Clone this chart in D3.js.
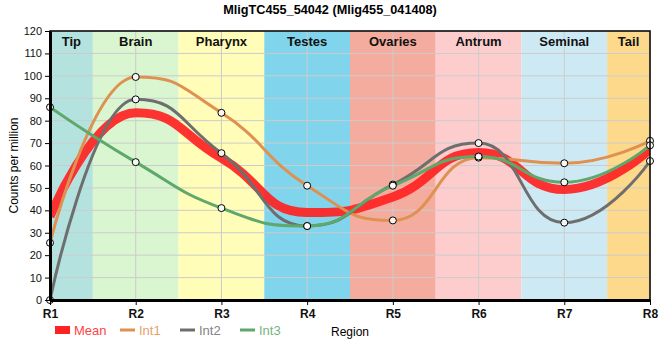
<!DOCTYPE html>
<html lang="en">
<head>
    <meta charset="UTF-8">
    <title>MligTC455_54042</title>
    <script src="https://d3js.org/d3.v7.min.js"></script>
    <style>
        body{ margin: 0; background: white; font-family: "Liberation Sans", Arial, sans-serif; }
        .grid line{ stroke: #cccccc; stroke-width: 1; }
        .ser{ fill: none; stroke-linejoin: round; }
    </style>
</head>
<body>
<svg id="main" width="660" height="360"></svg>
<script>
    // data
    let regions = ['R1','R2','R3','R4','R5','R6','R7','R8'];
    let tissues = ['Tip','Brain','Pharynx','Testes','Ovaries','Antrum','Seminal','Tail'];
    let tissueColors = ['#b4e3df','#d9f6d0','#fffdb8','#80d4eb','#f4ac9e','#fdcccd','#cdeaf4','#fdd98b'];
    let int1 = [25.5, 99.5, 83.5, 51, 35.5, 63.5, 61, 71];
    let int2 = [0, 89.5, 65.5, 33, 51.5, 70, 34.5, 62];
    let int3 = [86, 61.5, 41, 33, 51, 64, 52.5, 69];
    let mean = [37.2, 83.5, 63.3, 39, 46, 65.8, 49.3, 67.3];
    let yTicks = [0,10,20,30,40,50,60,70,80,90,100,110,120];

    let svg = d3.select('svg#main');
    let margins = {left: 50, right: 10, top: 31, bottom: 60};
    let W = 660, H = 360;

    let xScale = d3.scalePoint().domain(regions).range([margins.left, W - margins.right]);
    let yScale = d3.scaleLinear().domain([0, 120]).range([H - margins.bottom, margins.top]);
    let step = xScale.step();

    function bandEdges(i){
        let a = Math.max(margins.left, xScale(regions[i]) - step/2);
        let b = Math.min(W - margins.right, xScale(regions[i]) + step/2);
        return [a, b];
    }

    // tissue bands
    svg.append('g').selectAll('rect')
        .data(tissues)
        .enter()
        .append('rect')
        .attr('x', function(d,i){ return bandEdges(i)[0]; })
        .attr('width', function(d,i){ let e = bandEdges(i); return e[1] - e[0]; })
        .attr('y', yScale(120))
        .attr('height', yScale(0) - yScale(120))
        .style('fill', function(d,i){ return tissueColors[i]; });

    // grid
    let grid = svg.append('g').attr('class','grid');
    grid.selectAll('line.h').data(yTicks).enter().append('line')
        .attr('class','h')
        .attr('x1', margins.left).attr('x2', W - margins.right)
        .attr('y1', function(d){ return yScale(d); }).attr('y2', function(d){ return yScale(d); });
    grid.selectAll('line.v').data(regions).enter().append('line')
        .attr('class','v')
        .attr('y1', yScale(0)).attr('y2', yScale(120))
        .attr('x1', function(d){ return xScale(d); }).attr('x2', function(d){ return xScale(d); });

    // band labels
    svg.append('g').selectAll('text')
        .data(tissues)
        .enter()
        .append('text')
        .attr('x', function(d,i){ let e = bandEdges(i); return (e[0] + e[1]) / 2; })
        .attr('y', yScale(120) + 15)
        .attr('text-anchor','middle')
        .style('font-size','13px')
        .style('font-weight','bold')
        .style('fill','#111')
        .text(function(d){ return d; });

    // spline with flat tangents at extremes, control points half way between points
    function spline(values){
        let pts = values.map(function(v,i){ return {x: xScale(regions[i]), y: yScale(v)}; });
        let sm = 1, den = sm + 1;
        for (let i = 1; i < pts.length - 1; i++){
            let p = pts[i], l = pts[i-1], n = pts[i+1];
            let lcx = (sm*p.x + l.x)/den, lcy = (sm*p.y + l.y)/den;
            let rcx = (sm*p.x + n.x)/den, rcy = (sm*p.y + n.y)/den;
            let corr = ((rcy - lcy) * (rcx - p.x)) / (rcx - lcx) + p.y - rcy;
            lcy += corr; rcy += corr;
            if (lcy > l.y && lcy > p.y){ lcy = Math.max(l.y, p.y); rcy = 2*p.y - lcy; }
            else if (lcy < l.y && lcy < p.y){ lcy = Math.min(l.y, p.y); rcy = 2*p.y - lcy; }
            if (rcy > n.y && rcy > p.y){ rcy = Math.max(n.y, p.y); lcy = 2*p.y - rcy; }
            else if (rcy < n.y && rcy < p.y){ rcy = Math.min(n.y, p.y); lcy = 2*p.y - rcy; }
            p.lcx = lcx; p.lcy = lcy; p.rcx = rcx; p.rcy = rcy;
        }
        let path = d3.path();
        path.moveTo(pts[0].x, pts[0].y);
        for (let i = 1; i < pts.length; i++){
            let a = pts[i-1], b = pts[i];
            path.bezierCurveTo(
                a.rcx !== undefined ? a.rcx : a.x, a.rcy !== undefined ? a.rcy : a.y,
                b.lcx !== undefined ? b.lcx : b.x, b.lcy !== undefined ? b.lcy : b.y,
                b.x, b.y);
        }
        return path.toString();
    }

    let series = [
        {name:'Mean', values: mean, color:'#ff2222', width: 9},
        {name:'Int1', values: int1, color:'#df9152', width: 3},
        {name:'Int2', values: int2, color:'#6e6e6e', width: 3},
        {name:'Int3', values: int3, color:'#5ea86b', width: 3}
    ];

    let plot = svg.append('g');
    plot.append('clipPath').attr('id','clip').append('rect')
        .attr('x', margins.left).attr('y', margins.top)
        .attr('width', W - margins.left - margins.right)
        .attr('height', H - margins.top - margins.bottom);

    plot.selectAll('path.ser')
        .data(series)
        .enter()
        .append('path')
        .attr('class','ser')
        .attr('clip-path','url(#clip)')
        .attr('d', function(d){ return spline(d.values); })
        .style('stroke', function(d){ return d.color; })
        .style('stroke-width', function(d){ return d.width; })
        .style('opacity', function(d){ return d.name === 'Mean' ? 0.92 : 1; });

    // markers for replicate series
    series.slice(1).forEach(function(s){
        svg.append('g').selectAll('circle')
            .data(s.values)
            .enter()
            .append('circle')
            .attr('cx', function(d,i){ return xScale(regions[i]); })
            .attr('cy', function(d){ return yScale(d); })
            .attr('r', 3.5)
            .style('fill','white')
            .style('fill-opacity', 0.9)
            .style('stroke','black')
            .style('stroke-width', 1);
    });

    // frame
    svg.append('rect')
        .attr('x', margins.left).attr('y', margins.top)
        .attr('width', W - margins.left - margins.right)
        .attr('height', H - margins.top - margins.bottom)
        .style('fill','none').style('stroke','black').style('stroke-width', 1.5);

    // axes
    let yAxis = svg.append('g')
        .attr('transform','translate(' + margins.left + ',0)')
        .call(d3.axisLeft(yScale).tickValues(yTicks).tickSize(5).tickSizeOuter(0));
    yAxis.select('.domain').style('stroke-width', 3);
    yAxis.selectAll('text').style('font-size','11px').style('font-family','"Liberation Sans", Arial, sans-serif').style('fill','#111');

    let xAxis = svg.append('g')
        .attr('transform','translate(0,' + yScale(0) + ')')
        .call(d3.axisBottom(xScale).tickSize(5).tickSizeOuter(0));
    xAxis.select('.domain').style('stroke-width', 3);
    xAxis.selectAll('text').style('font-size','12px').style('font-weight','bold')
        .style('font-family','"Liberation Sans", Arial, sans-serif').style('fill','#111')
        .attr('dy','0.85em');

    // title
    svg.append('text')
        .attr('x', 330).attr('y', 14)
        .attr('text-anchor','middle')
        .style('font-size','12.7px').style('font-weight','bold')
        .text('MligTC455_54042 (Mlig455_041408)');

    // y label
    svg.append('text')
        .attr('transform','translate(18,' + yScale(60) + ') rotate(-90)')
        .attr('text-anchor','middle')
        .style('font-size','12px')
        .text('Counts per million');

    // legend
    let legend = svg.append('g').attr('transform','translate(55,330)');
    let legX = [0, 65, 125, 185];
    series.forEach(function(s, i){
        let g = legend.append('g').attr('transform','translate(' + legX[i] + ',0)');
        if (s.name === 'Mean') {
            g.append('rect').attr('x',0).attr('y',-4).attr('width',15).attr('height',8).style('fill', s.color);
        } else {
            g.append('line').attr('x1',0).attr('x2',15).attr('y1',0).attr('y2',0)
                .style('stroke', s.color).style('stroke-width', 3);
        }
        g.append('text').attr('x', 19).attr('y', 5)
            .style('font-size','13px')
            .style('fill', s.color)
            .style('opacity', 0.85)
            .text(s.name);
    });

    svg.append('text')
        .attr('x', 331).attr('y', 336)
        .style('font-size','12px')
        .text('Region');
</script>
</body>
</html>
